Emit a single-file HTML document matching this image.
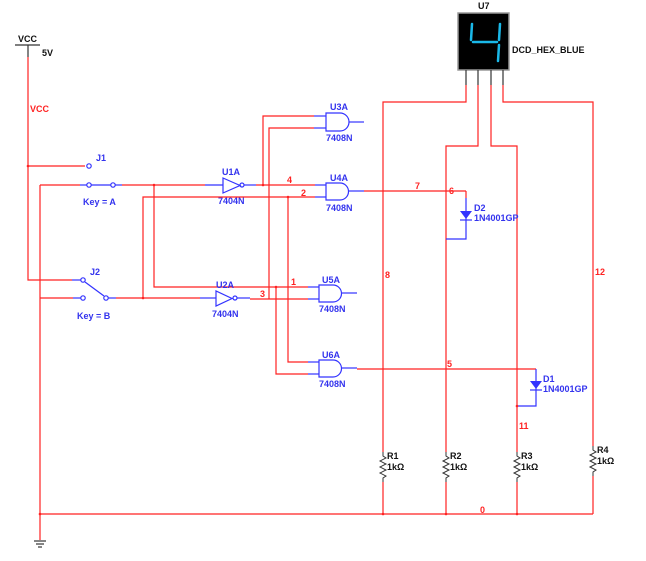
<!DOCTYPE html>
<html><head><meta charset="utf-8"><style>
html,body{margin:0;padding:0;background:#fff;}
svg{display:block;font-family:"Liberation Sans",Arial,sans-serif;font-weight:bold;}
.r{stroke:#f22;stroke-width:1.2;fill:none}
.b{stroke:#33f;stroke-width:1.2;fill:none}
.k{stroke:#333;stroke-width:1.2;fill:none}
.tb{fill:#33e;font-size:9px}
.tr{fill:#f22;font-size:9px}
.tk{fill:#111;font-size:9px}
</style></head><body>
<svg width="646" height="561" viewBox="0 0 646 561">
<!-- VCC -->
<line class="k" x1="15" y1="45" x2="40" y2="45"/>
<line class="k" x1="28" y1="45" x2="28" y2="57"/>
<text class="tk" x="18" y="42">VCC</text>
<text class="tk" x="42" y="56">5V</text>
<polyline class="r" points="28,57 28,280 72,280"/>
<text class="tr" x="30" y="112">VCC</text>
<line class="r" x1="28" y1="166" x2="85" y2="166"/>
<circle cx="28" cy="166" r="1.3" fill="#f22"/>
<circle class="b" cx="89" cy="166" r="2.2"/>
<text class="tb" x="96" y="161">J1</text>
<!-- J1 row -->
<line class="r" x1="40" y1="185" x2="80" y2="185"/>
<line class="b" x1="80" y1="185" x2="87" y2="185"/>
<circle class="b" cx="89" cy="185" r="2.2"/>
<line class="b" x1="91" y1="185" x2="111" y2="185"/>
<circle class="b" cx="113" cy="185" r="2.2"/>
<line class="b" x1="115" y1="185" x2="122" y2="185"/>
<line class="r" x1="122" y1="185" x2="205" y2="185"/>
<circle cx="154" cy="185" r="1.3" fill="#f22"/>
<text class="tb" x="83" y="205">Key = A</text>
<!-- U1A -->
<line class="b" x1="205" y1="185" x2="223" y2="185"/>
<polygon class="b" points="223,178 223,193 240,185.5"/>
<circle class="b" cx="242" cy="185" r="2"/>
<line class="b" x1="244" y1="185" x2="256" y2="185"/>
<text class="tb" x="222" y="175">U1A</text>
<text class="tb" x="218" y="204">7404N</text>
<line class="r" x1="256" y1="185" x2="315" y2="185"/>
<circle cx="263" cy="185" r="1.3" fill="#f22"/>
<text class="tr" x="287" y="183">4</text>
<!-- line 2 -->
<polyline class="r" points="143,298 143,197 315,197"/>
<circle cx="288" cy="197" r="1.3" fill="#f22"/>
<text class="tr" x="301" y="196">2</text>
<!-- line 1 -->
<polyline class="r" points="154,185 154,287 308,287"/>
<circle cx="276" cy="287" r="1.3" fill="#f22"/>
<text class="tr" x="291" y="285">1</text>
<!-- U3A connections -->
<polyline class="r" points="263,185 263,116 314,116"/>
<polyline class="r" points="269,299 269,128 314,128"/>
<!-- U6A connections -->
<polyline class="r" points="288,197 288,362 308,362"/>
<polyline class="r" points="276,287 276,374 308,374"/>
<!-- J2 -->
<line class="b" x1="72" y1="280" x2="81" y2="280"/>
<circle class="b" cx="83" cy="280" r="2.2"/>
<line class="b" x1="85" y1="282" x2="104" y2="296"/>
<text class="tb" x="90" y="275">J2</text>
<line class="r" x1="40" y1="298" x2="73" y2="298"/>
<line class="b" x1="73" y1="298" x2="81" y2="298"/>
<circle class="b" cx="83" cy="298" r="2.2"/>
<circle class="b" cx="106" cy="298" r="2.2"/>
<line class="b" x1="108" y1="298" x2="116" y2="298"/>
<line class="r" x1="116" y1="298" x2="200" y2="298"/>
<circle cx="143" cy="298" r="1.3" fill="#f22"/>
<text class="tb" x="77" y="319">Key = B</text>
<!-- U2A -->
<line class="b" x1="200" y1="298" x2="216" y2="298"/>
<polygon class="b" points="216,291 216,306 232,298.5"/>
<circle class="b" cx="235" cy="298" r="2"/>
<line class="b" x1="237" y1="298" x2="250" y2="298"/>
<text class="tb" x="216" y="288">U2A</text>
<text class="tb" x="212" y="317">7404N</text>
<line class="r" x1="250" y1="299" x2="308" y2="299"/>
<text class="tr" x="260" y="297">3</text>
<!-- AND gates -->
<g class="b">
<path d="M326,113 H340 A9,9 0 0 1 340,131 H326 Z"/>
<line x1="314" y1="116" x2="326" y2="116"/><line x1="314" y1="128" x2="326" y2="128"/>
<line x1="349" y1="122" x2="364" y2="122"/>
<path d="M326,183 H340 A8.5,8.5 0 0 1 340,200 H326 Z"/>
<line x1="315" y1="185" x2="326" y2="185"/><line x1="315" y1="197" x2="326" y2="197"/>
<line x1="349" y1="191" x2="364" y2="191"/>
<path d="M319,285 H333 A8.5,8.5 0 0 1 333,302 H319 Z"/>
<line x1="308" y1="287" x2="319" y2="287"/><line x1="308" y1="299" x2="319" y2="299"/>
<line x1="342" y1="293" x2="357" y2="293"/>
<path d="M319,360 H333 A8.5,8.5 0 0 1 333,377 H319 Z"/>
<line x1="308" y1="362" x2="319" y2="362"/><line x1="308" y1="374" x2="319" y2="374"/>
<line x1="342" y1="368" x2="357" y2="368"/>
</g>
<text class="tb" x="330" y="110">U3A</text><text class="tb" x="326" y="141">7408N</text>
<text class="tb" x="330" y="181">U4A</text><text class="tb" x="326" y="211">7408N</text>
<text class="tb" x="322" y="283">U5A</text><text class="tb" x="319" y="312">7408N</text>
<text class="tb" x="322" y="358">U6A</text><text class="tb" x="319" y="387">7408N</text>
<!-- U7 display -->
<rect x="458" y="13" width="51" height="57" fill="#000" stroke="#999" stroke-width="1.5"/>
<g stroke="#1ab8e8" stroke-width="2.5" fill="none" stroke-linecap="round">
<line x1="472" y1="24" x2="471" y2="40"/>
<line x1="473" y1="42" x2="497" y2="42"/>
<line x1="500" y1="24" x2="499" y2="40"/>
<line x1="499" y1="45" x2="498" y2="61"/>
</g>
<text class="tk" x="478" y="9">U7</text>
<text class="tk" x="512" y="53">DCD_HEX_BLUE</text>
<g class="k"><line x1="466" y1="70" x2="466" y2="85"/><line x1="478" y1="70" x2="478" y2="85"/><line x1="491" y1="70" x2="491" y2="85"/><line x1="503" y1="70" x2="503" y2="85"/></g>
<polyline class="r" points="466,85 466,102 383,102 383,452"/>
<polyline class="r" points="478,85 478,146 446,146 446,452"/>
<polyline class="r" points="491,85 491,146 517,146 517,452"/>
<polyline class="r" points="503,85 503,102 593,102 593,446"/>
<text class="tr" x="385" y="278">8</text>
<text class="tr" x="595" y="275">12</text>
<!-- line 7 / D2 -->
<line class="r" x1="364" y1="191" x2="466" y2="191"/>
<text class="tr" x="415" y="189">7</text>
<text class="tr" x="449" y="194">6</text>
<polyline class="b" points="466,198 466,239 446,239"/>
<line class="r" x1="466" y1="191" x2="466" y2="198"/>
<polygon points="460,211 472,211 466,219" fill="#33f"/>
<line class="b" x1="460" y1="220" x2="472" y2="220"/>
<text class="tb" x="474" y="211">D2</text><text class="tb" x="474" y="221">1N4001GP</text>
<!-- line 5 / D1 -->
<line class="r" x1="357" y1="369" x2="536" y2="369"/>
<text class="tr" x="447" y="367">5</text>
<polyline class="b" points="536,369 536,406 517,406"/>
<polygon points="530,381 542,381 536,389" fill="#33f"/>
<line class="b" x1="530" y1="390" x2="542" y2="390"/>
<text class="tb" x="543" y="382">D1</text><text class="tb" x="543" y="392">1N4001GP</text>
<circle cx="517" cy="406" r="1.3" fill="#f22"/>
<text class="tr" x="519" y="429">11</text>
<!-- resistors -->
<g stroke="#333" stroke-width="1" fill="none">
<polyline points="383,452 383,456 386,458 380,461 386,464 380,467 386,470 380,473 386,476 383,478 383,482"/>
<polyline points="446,452 446,456 449,458 443,461 449,464 443,467 449,470 443,473 449,476 446,478 446,482"/>
<polyline points="517,452 517,456 520,458 514,461 520,464 514,467 520,470 514,473 520,476 517,478 517,482"/>
<polyline points="593,446 593,450 596,452 590,455 596,458 590,461 596,464 590,467 596,470 593,472 593,476"/>
</g>
<text class="tk" x="387" y="459">R1</text><text class="tk" x="387" y="470">1kΩ</text>
<text class="tk" x="450" y="459">R2</text><text class="tk" x="450" y="470">1kΩ</text>
<text class="tk" x="521" y="459">R3</text><text class="tk" x="521" y="470">1kΩ</text>
<text class="tk" x="597" y="453">R4</text><text class="tk" x="597" y="464">1kΩ</text>
<!-- ground bus -->
<polyline class="r" points="40,185 40,540"/>
<line class="r" x1="40" y1="514" x2="593" y2="514"/>
<line class="r" x1="383" y1="482" x2="383" y2="514"/>
<line class="r" x1="446" y1="482" x2="446" y2="514"/>
<line class="r" x1="517" y1="482" x2="517" y2="514"/>
<line class="r" x1="593" y1="476" x2="593" y2="514"/>
<circle cx="383" cy="514" r="1.3" fill="#f22"/><circle cx="446" cy="514" r="1.3" fill="#f22"/><circle cx="517" cy="514" r="1.3" fill="#f22"/><circle cx="40" cy="514" r="1.3" fill="#f22"/>
<text class="tr" x="480" y="513">0</text>
<g class="k"><line x1="34" y1="541" x2="46" y2="541"/><line x1="36" y1="544" x2="44" y2="544"/><line x1="38" y1="547" x2="42" y2="547"/></g>
</svg>
</body></html>
